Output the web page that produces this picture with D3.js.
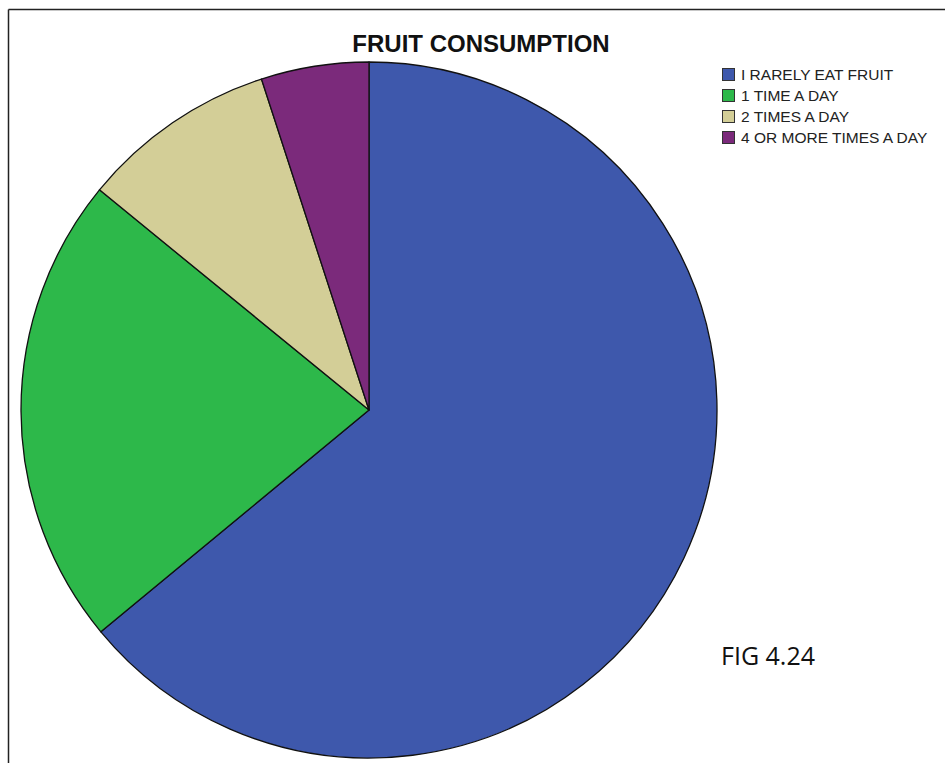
<!DOCTYPE html>
<html><head><meta charset="utf-8">
<script src="https://cdn.jsdelivr.net/npm/d3@7"></script>
<style>body{margin:0;background:#fff}svg{display:block}</style>
</head><body>
<svg id="c" width="945" height="763"></svg>
<script>
const categories = ["I RARELY EAT FRUIT", "1 TIME A DAY", "2 TIMES A DAY", "4 OR MORE TIMES A DAY"];
const values = [64.0, 21.9, 9.1, 5.0];
const colors = ["#3e58ac", "#2db84a", "#d3ce97", "#7b2a7b"];
const title = "FRUIT CONSUMPTION";
const figLabel = "FIG 4.24";

const svg = d3.select("#c");
// frame lines
svg.append("line").attr("x1", 8.5).attr("y1", 9.5).attr("x2", 945).attr("y2", 9.5).attr("stroke", "#222").attr("stroke-width", 1.5);
svg.append("line").attr("x1", 8.5).attr("y1", 9.5).attr("x2", 8.5).attr("y2", 763).attr("stroke", "#222").attr("stroke-width", 1.5);

const cx = 369, cy = 410, r = 348;
const pie = d3.pie().sort(null).value(d => d)(values);
const arc = d3.arc().innerRadius(0).outerRadius(r);
const g = svg.append("g").attr("transform", `translate(${cx},${cy})`);
g.selectAll("path").data(pie).enter().append("path")
  .attr("d", arc)
  .attr("fill", (d, i) => colors[i])
  .attr("stroke", "#111").attr("stroke-width", 1.3).attr("stroke-linejoin", "round");

svg.append("text").attr("x", 481).attr("y", 52).attr("text-anchor", "middle")
  .attr("font-family", "Liberation Sans, Arial, sans-serif").attr("font-weight", "bold")
  .attr("font-size", 24).attr("fill", "#111").text(title);

const leg = svg.append("g").attr("transform", "translate(722,68)");
const rows = leg.selectAll("g").data(categories).enter().append("g")
  .attr("transform", (d, i) => `translate(0,${i * 21})`);
rows.append("rect").attr("x", 0.5).attr("y", 0.5).attr("width", 12).attr("height", 12)
  .attr("fill", (d, i) => colors[i]).attr("stroke", "#333").attr("stroke-width", 1);
rows.append("text").attr("x", 19).attr("y", 12).attr("font-family", "Liberation Sans, Arial, sans-serif")
  .attr("font-size", 15.5).attr("fill", "#222").text(d => d);

svg.append("text").attr("x", 721).attr("y", 665).attr("font-family", "Open Sans, Lato, sans-serif")
  .attr("font-size", 25).attr("fill", "#111").text(figLabel);
</script>
</body></html>
